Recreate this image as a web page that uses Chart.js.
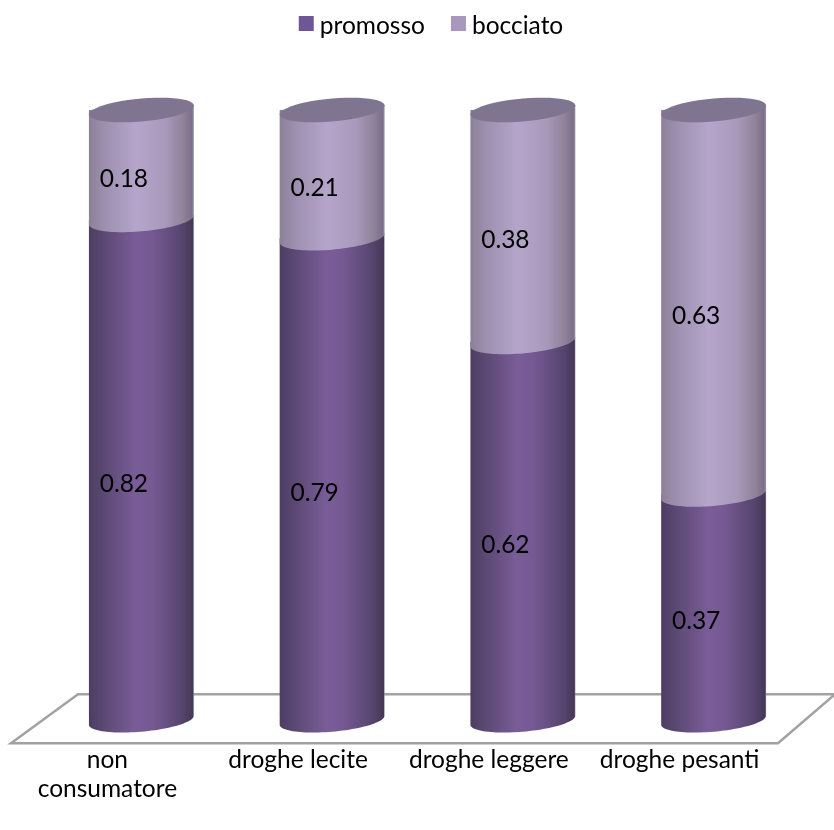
<!DOCTYPE html>
<html>
<head>
<meta charset="utf-8">
<title>promosso / bocciato</title>
<script src="https://cdn.jsdelivr.net/npm/chart.js@4/dist/chart.umd.min.js"></script>
<style>
    html, body { margin: 0; padding: 0; background: #ffffff; }
    canvas { display: block; }
</style>
</head>
<body>
<canvas id="esitoChart" width="834" height="830"></canvas>
<script>
const categories = [['non', 'consumatore'], 'droghe lecite', 'droghe leggere', 'droghe pesanti'];
const promosso = [0.82, 0.79, 0.62, 0.37];
const bocciato = [0.18, 0.21, 0.38, 0.63];

const FONT = 'Lato, "Open Sans", sans-serif';
const FONT_SIZE = 24.5;

// horizontal shading of each cylinder, edge to edge
const promossoShade = [[0, '#4d3d62'], [0.14, '#5b4873'], [0.45, '#7a5d98'], [0.6, '#755993'], [0.88, '#574570'], [0.99, '#463756'], [1, '#8d8598']];
const bocciatoShade = [[0, '#8c8098'], [0.14, '#9c8fae'], [0.45, '#b4a5ca'], [0.72, '#a99abc'], [0.9, '#8f8299'], [0.98, '#7b6f8a'], [1, '#9a92a6']];
const capColor = '#807590';

// the ellipse of a cylinder section is sheared, right side higher than left
function ellipsePoint(bar, cy, t) {
    const a = bar.width / 2;
    return [bar.x + a * Math.cos(t), cy - 4.5 * Math.cos(t) + 11.5 * Math.sin(t)];
}

function traceArc(ctx, bar, cy, from, to) {
    const steps = 48;
    for (let i = 0; i <= steps; i++) {
        const p = ellipsePoint(bar, cy, from + (to - from) * i / steps);
        ctx.lineTo(p[0], p[1]);
    }
}

function sideGradient(ctx, bar, stops) {
    const grad = ctx.createLinearGradient(bar.x - bar.width / 2, 0, bar.x + bar.width / 2, 0);
    stops.forEach((s) => grad.addColorStop(s[0], s[1]));
    return grad;
}

function drawSection(ctx, bar, stops) {
    const a = bar.width / 2;
    ctx.beginPath();
    ctx.moveTo(bar.x - a, bar.y);
    traceArc(ctx, bar, bar.base, Math.PI, 0);
    ctx.lineTo(bar.x + a, bar.y - 5);
    ctx.closePath();
    ctx.fillStyle = sideGradient(ctx, bar, stops);
    ctx.fill();
}

function drawFloor(ctx, area) {
    const back = area.bottom - 26;
    const front = area.bottom + 23;
    ctx.save();
    ctx.beginPath();
    ctx.moveTo(area.left + 32, back);
    ctx.lineTo(area.right + 26, back);
    ctx.lineTo(area.right - 31, front);
    ctx.lineTo(area.left - 35, front);
    ctx.closePath();
    ctx.fillStyle = '#ffffff';
    ctx.fill();
    ctx.lineWidth = 2.5;
    ctx.strokeStyle = '#a2a2a2';
    ctx.stroke();
    ctx.restore();
}

// legend row, tighter between swatch and text than the built-in one
function drawLegend(chart) {
    const ctx = chart.ctx;
    const sets = chart.data.datasets;
    const box = 15, gap = 6, between = 26;
    ctx.save();
    ctx.font = FONT_SIZE + 'px ' + FONT;
    ctx.textBaseline = 'middle';
    ctx.textAlign = 'left';
    const widths = sets.map((ds) => ctx.measureText(ds.label).width);
    let x = 431 - (widths[0] + widths[1] + 2 * (box + gap) + between) / 2;
    sets.forEach((ds, i) => {
        ctx.fillStyle = ds.backgroundColor;
        ctx.fillRect(x, 16, box, box);
        ctx.fillStyle = '#000000';
        ctx.fillText(ds.label, x + box + gap, 26);
        x += box + gap + widths[i] + between;
    });
    ctx.restore();
}

function drawValues(chart) {
    const ctx = chart.ctx;
    ctx.save();
    ctx.font = FONT_SIZE + 'px ' + FONT;
    ctx.fillStyle = '#000000';
    ctx.textAlign = 'center';
    ctx.textBaseline = 'middle';
    chart.data.datasets.forEach((ds, d) => {
        chart.getDatasetMeta(d).data.forEach((bar, i) => {
            ctx.fillText(ds.data[i].toFixed(2), bar.x - 17.5, (bar.y + bar.base) / 2 + 14);
        });
    });
    ctx.restore();
}

const cylinderPlugin = {
    id: 'cylinders',
    beforeDatasetsDraw(chart) {
        const ctx = chart.ctx;
        drawFloor(ctx, chart.chartArea);
        const lower = chart.getDatasetMeta(0).data;
        const upper = chart.getDatasetMeta(1).data;
        lower.forEach((bar, i) => {
            const top = upper[i];
            drawSection(ctx, bar, promossoShade);
            drawSection(ctx, top, bocciatoShade);
            ctx.beginPath();
            traceArc(ctx, top, top.y, 0, Math.PI * 2);
            ctx.closePath();
            ctx.fillStyle = capColor;
            ctx.fill();
        });
        drawValues(chart);
        drawLegend(chart);
        // the cylinders replace the flat bars
        return false;
    }
};

new Chart(document.getElementById('esitoChart'), {
    type: 'bar',
    data: {
        labels: categories,
        datasets: [
            { label: 'promosso', data: promosso, backgroundColor: '#715696' },
            { label: 'bocciato', data: bocciato, backgroundColor: '#a897bf' }
        ]
    },
    options: {
        responsive: false,
        animation: false,
        barPercentage: 0.55,
        categoryPercentage: 1,
        layout: { padding: { left: 46, right: 25, top: 110, bottom: 1 } },
        plugins: {
            legend: { display: false },
            tooltip: { enabled: false }
        },
        scales: {
            x: {
                stacked: true,
                grid: { display: false, drawTicks: false },
                border: { display: false },
                ticks: {
                    padding: 25,
                    labelOffset: -34,
                    color: '#000000',
                    maxRotation: 0,
                    autoSkip: false,
                    font: { family: FONT, size: FONT_SIZE, lineHeight: 1.2 }
                }
            },
            y: { stacked: true, display: false, min: 0, max: 1 }
        }
    },
    plugins: [cylinderPlugin]
});
</script>
</body>
</html>
